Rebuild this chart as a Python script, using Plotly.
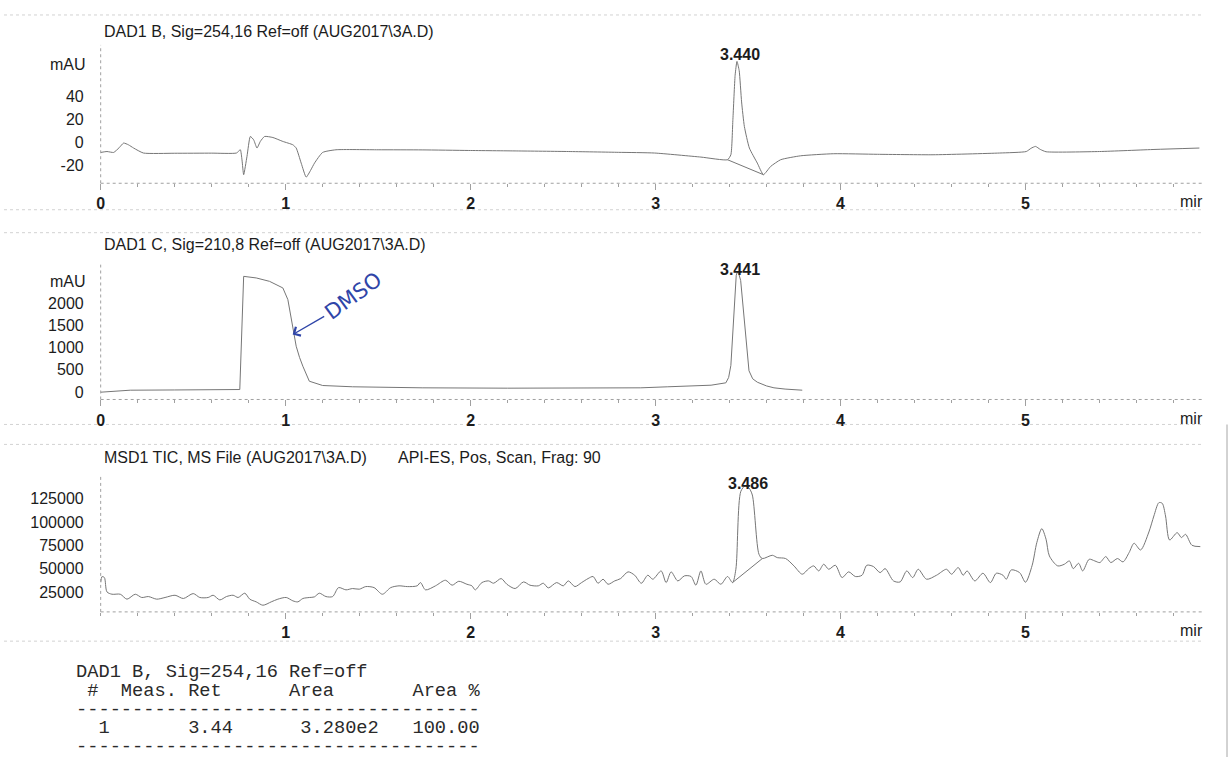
import plotly.graph_objects as go

W, H = 1230, 758

# ---------------- data ----------------
# DAD1 B, Sig=254,16 : retention time (min) / absorbance (mAU)
dad_b_time = [0.00, 0.034, 0.07, 0.10, 0.124, 0.15, 0.178, 0.231, 0.40, 0.60, 0.734, 0.755,
              0.764, 0.773, 0.791, 0.809, 0.827, 0.845, 0.863, 0.886, 0.931, 0.985, 1.039,
              1.057, 1.084, 1.111, 1.135, 1.156, 1.20, 1.272, 1.50, 1.738, 1.99, 2.25, 2.528,
              2.80, 2.994, 3.245, 3.389, 3.407, 3.418, 3.43, 3.440, 3.452, 3.465, 3.48, 3.507,
              3.55, 3.583, 3.622, 3.676, 3.784, 3.963, 4.20, 4.50, 4.86, 5.004, 5.03, 5.054,
              5.08, 5.111, 5.40, 5.70, 5.94]
dad_b_mau = [-8.6, -7.8, -8.6, -4.5, -0.5, -2.0, -4.8, -9.1, -9.3, -9.2, -9.1, -6.3,
             -15.0, -27.8, -12.0, 5.2, 2.3, -4.8, 0.9, 5.2, 4.3, 0.9, -2.0,
             -4.8, -17.8, -29.9, -24.0, -17.8, -8.6, -6.3, -6.3, -6.4, -6.9, -7.3, -7.8,
             -8.5, -9.1, -12.6, -14.9, -10.6, 20.0, 58.0, 70.0, 62.0, 35.0, 13.8, -4.8,
             -17.8, -27.8, -20.7, -14.9, -11.5, -9.7, -10.2, -10.6, -9.1, -7.8, -5.0, -3.4,
             -6.0, -8.0, -7.8, -6.0, -4.8]
dad_b_base_time = [3.389, 3.583]
dad_b_base_mau = [-14.9, -27.8]
dad_b_peak_rt = 3.440

# DAD1 C, Sig=210,8
dad_c_time = [0.00, 0.16, 0.40, 0.60, 0.752, 0.773, 0.806, 0.841, 0.913, 0.985, 1.012, 1.039,
              1.057, 1.075, 1.093, 1.128, 1.20, 1.362, 1.738, 2.20, 2.60, 2.92, 3.066, 3.30,
              3.38, 3.395, 3.407, 3.418, 3.428, 3.436, 3.441, 3.450, 3.46, 3.47, 3.482, 3.493,
              3.505, 3.525, 3.55, 3.60, 3.64, 3.70, 3.793]
dad_c_mau = [0, 45, 50, 55, 60, 2595, 2581, 2559, 2483, 2335, 2074, 1476,
             1029, 780, 582, 246, 150, 121, 98, 90, 92, 98, 121, 157,
             210, 330, 600, 1400, 2250, 2620, 2684, 2650, 2500, 2050, 1476, 900,
             480, 300, 224, 140, 98, 70, 45]
dad_c_peak_rt = 3.441

# MSD1 TIC, API-ES positive scan
tic_time = [0.000, 0.007, 0.020, 0.034, 0.061, 0.106, 0.142, 0.187, 0.222, 0.258, 0.303, 0.348,
            0.402, 0.447, 0.500, 0.536, 0.581, 0.608, 0.644, 0.680, 0.716, 0.743, 0.779, 0.806,
            0.841, 0.877, 0.922, 0.958, 1.003, 1.039, 1.066, 1.093, 1.128, 1.155, 1.182, 1.218,
            1.254, 1.286, 1.326, 1.362, 1.398, 1.433, 1.478, 1.523, 1.568, 1.613, 1.658, 1.711,
            1.729, 1.756, 1.810, 1.864, 1.900, 1.936, 1.980, 2.007, 2.025, 2.061, 2.097, 2.124,
            2.165, 2.196, 2.241, 2.286, 2.321, 2.366, 2.393, 2.420, 2.465, 2.501, 2.528, 2.564,
            2.600, 2.635, 2.662, 2.689, 2.716, 2.743, 2.779, 2.811, 2.851, 2.887, 2.923, 2.958,
            2.985, 3.030, 3.057, 3.084, 3.120, 3.156, 3.192, 3.218, 3.245, 3.272, 3.317, 3.353,
            3.389, 3.416, 3.434, 3.461, 3.486, 3.505, 3.523, 3.559, 3.577, 3.631, 3.658, 3.703,
            3.748, 3.793, 3.828, 3.855, 3.882, 3.909, 3.936, 3.972, 4.008, 4.044, 4.080, 4.116,
            4.142, 4.178, 4.214, 4.241, 4.286, 4.322, 4.358, 4.390, 4.420, 4.465, 4.519, 4.573,
            4.600, 4.636, 4.663, 4.684, 4.726, 4.770, 4.810, 4.842, 4.878, 4.896, 4.923, 4.968,
            5.000, 5.036, 5.061, 5.088, 5.111, 5.129, 5.174, 5.210, 5.237, 5.258, 5.287, 5.309,
            5.344, 5.375, 5.402, 5.434, 5.461, 5.497, 5.527, 5.560, 5.587, 5.622, 5.667, 5.694,
            5.721, 5.739, 5.757, 5.779, 5.820, 5.843, 5.865, 5.900, 5.945]
tic_counts = [35000, 41400, 40400, 25000, 22500, 22500, 17200, 22500, 19000, 20000, 17200, 19000,
              21400, 17900, 23200, 19000, 19000, 21400, 16400, 20000, 21400, 19000, 23600, 17200,
              14300, 10700, 14300, 17200, 19000, 15400, 14300, 17900, 19000, 19600, 23600, 20000,
              20000, 29600, 27200, 28600, 27900, 30700, 29600, 22500, 29600, 31500, 30700, 31500,
              35000, 27200, 31500, 37500, 32200, 36400, 33200, 31500, 27200, 35000, 36800, 34300,
              39300, 33200, 28600, 35700, 32200, 31500, 34300, 29300, 35000, 31500, 36800, 30700,
              35000, 39300, 41500, 34300, 38600, 33200, 36800, 39300, 46500, 42900, 34300, 42900,
              38600, 47500, 35000, 46500, 36800, 42200, 41500, 32200, 47500, 33200, 38600, 33200,
              41500, 35000, 49300, 133000, 139000, 136500, 129000, 65400, 60800, 64300, 61800, 60800,
              52900, 44000, 50000, 52900, 47500, 54700, 49300, 53600, 40400, 46500, 41500, 42900,
              53600, 52200, 45700, 50000, 36800, 35700, 47500, 40400, 49300, 38600, 42900, 49300,
              44000, 51100, 42900, 47500, 36800, 45000, 35000, 45000, 42900, 38600, 48600, 45700,
              35400, 53600, 77900, 92900, 81500, 63600, 52900, 54700, 58200, 50000, 55700, 47500,
              60000, 58200, 56500, 62900, 56500, 60800, 57200, 67200, 77200, 70000, 89300, 106500,
              120800, 120100, 106500, 80700, 88600, 83300, 86800, 75000, 73600]
tic_base_time = [3.416, 3.577]
tic_base_counts = [35000, 60800]
tic_peak_rt = 3.486

# axis ticks
x_ticks = [0, 1, 2, 3, 4, 5]
y_ticks_b = [-20, 0, 20, 40]
y_ticks_c = [0, 500, 1000, 1500, 2000]
y_ticks_tic = [25000, 50000, 75000, 100000, 125000]

# area report
report_signal = "DAD1 B, Sig=254,16 Ref=off"
report_header = ["#", "Meas. Ret", "Area", "Area %"]
report_row = ["1", "3.44", "3.280e2", "100.00"]

# ---------------- styling ----------------
TRACE = "#767676"
AXIS = "#a0a0a0"
RULE = "#d2d2d2"
TEXT = "#1c1c1c"
PEN = "#2f45a8"
SANS = "Liberation Sans, Arial, sans-serif"
MONO = "Liberation Mono, Courier New, monospace"


def px(v):
    return v / W


def py(v):
    return 1 - v / H


X_LEFT, X_RIGHT = 97, 1203
X_RANGE = [0, 5.96]

panels = [
    # (top px, bottom px, y range)
    (45, 183.5, [-35.2, 84.2]),
    (265, 400, [-163, 2857]),
    (477, 612.7, [3540, 149000]),
]

fig = go.Figure()


def line(x, y, n, shape="linear", smooth=None):
    ln = dict(color=TRACE, width=1, shape=shape)
    if smooth is not None:
        ln["smoothing"] = smooth
    fig.add_trace(go.Scatter(x=x, y=y, mode="lines", line=ln,
                             xaxis="x" if n == 1 else f"x{n}", yaxis="y" if n == 1 else f"y{n}",
                             hoverinfo="skip", showlegend=False))


line(dad_b_time, dad_b_mau, 1, "spline", 0.5)
line(dad_b_base_time, dad_b_base_mau, 1)
line(dad_c_time, dad_c_mau, 2)
line(tic_time, tic_counts, 3, "spline", 0.8)
line(tic_base_time, tic_base_counts, 3)

layout = dict(width=W, height=H, margin=dict(l=0, r=0, t=0, b=0),
              paper_bgcolor="white", plot_bgcolor="white", showlegend=False)

y_tick_sets = [y_ticks_b, y_ticks_c, y_ticks_tic]
shapes = []
for i, (top, bot, yr) in enumerate(panels, start=1):
    sx = "" if i == 1 else str(i)
    xt = x_ticks if i < 3 else x_ticks[1:]
    layout["xaxis" + sx] = dict(
        domain=[px(X_LEFT), px(X_RIGHT)], range=X_RANGE, anchor="y" + sx,
        showgrid=False, zeroline=False, showline=False,
        ticks="outside", ticklen=6, tickwidth=1, tickcolor=AXIS,
        tickvals=xt, ticktext=[f"<b>{v}</b>" for v in xt],
        tickfont=dict(family=SANS, size=16, color=TEXT), ticklabelstandoff=0,
        minor=dict(dtick=0.2, tick0=0, ticks="outside", ticklen=3, tickcolor=AXIS),
        fixedrange=True)
    yt = y_tick_sets[i - 1]
    layout["yaxis" + sx] = dict(
        domain=[py(bot), py(top)], range=yr, anchor="x" + sx,
        showgrid=False, zeroline=False, showline=False, ticks="",
        tickvals=yt, ticktext=[str(v) for v in yt],
        tickfont=dict(family=SANS, size=16, color=TEXT), ticklabelstandoff=16,
        fixedrange=True)
    # dotted axis lines
    shapes.append(dict(type="line", xref="paper", yref="paper", layer="below",
                       x0=px(X_LEFT), x1=px(X_RIGHT), y0=py(bot), y1=py(bot),
                       line=dict(color=AXIS, width=1, dash="dot")))
    shapes.append(dict(type="line", xref="paper", yref="paper", layer="below",
                       x0=px(X_LEFT), x1=px(X_LEFT), y0=py(bot), y1=py(top),
                       line=dict(color=AXIS, width=1, dash="dot")))

# faint rules framing each panel
for yy in [15, 210, 233, 425, 445, 642]:
    shapes.append(dict(type="line", xref="paper", yref="paper", layer="below",
                       x0=0, x1=px(1203), y0=py(yy), y1=py(yy),
                       line=dict(color=RULE, width=1, dash="dot")))
shapes.append(dict(type="line", xref="paper", yref="paper", layer="below",
                   x0=px(1227), x1=px(1227), y0=py(425), y1=0,
                   line=dict(color="#c4c4c4", width=1.5)))
layout["shapes"] = shapes

ann = []


def text(x, y, s, size=16, anchor="left", font=SANS, color=TEXT, **kw):
    ann.append(dict(x=px(x), y=py(y), xref="paper", yref="paper", text=s, showarrow=False,
                    xanchor=anchor, yanchor="middle",
                    font=dict(family=font, size=size, color=color), **kw))


text(98, 32, "DAD1 B, Sig=254,16 Ref=off (AUG2017\\3A.D)")
text(98, 245, "DAD1 C, Sig=210,8 Ref=off (AUG2017\\3A.D)")
text(98, 458, "MSD1 TIC, MS File (AUG2017\\3A.D)")
text(393, 458, "API-ES, Pos, Scan, Frag: 90")
text(84, 65, "mAU", anchor="right")
text(84, 282, "mAU", anchor="right")
for yy in [201.5, 419.5, 631.5]:
    text(1205, yy, "mir", anchor="right")

# retention-time labels on the main peaks
for n, rt, series_t, series_v, ys in [
        (1, dad_b_peak_rt, dad_b_time, dad_b_mau, 7),
        (2, dad_c_peak_rt, dad_c_time, dad_c_mau, 3),
        (3, tic_peak_rt, tic_time, tic_counts, 2)]:
    apex = series_v[series_t.index(rt)]
    sx = "" if n == 1 else str(n)
    ann.append(dict(x=rt, y=apex, xref="x" + sx, yref="y" + sx, text=f"<b>{rt:.3f}</b>",
                    showarrow=False, xanchor="center", yanchor="middle", yshift=ys, xshift=3,
                    font=dict(family=SANS, size=16, color=TEXT)))

# hand-written note on the solvent front
ann.append(dict(x=1.038, y=1291, xref="x2", yref="y2", text="", showarrow=True,
                ax=33, ay=-19, arrowhead=4, arrowsize=1.4, arrowwidth=1.4, arrowcolor=PEN))
ann.append(dict(x=1.366, y=2163, xref="x2", yref="y2", text="DMSO", showarrow=False,
                textangle=-36, font=dict(family="DejaVu Sans, sans-serif", size=21, color=PEN)))

# area percent report
NB = "\u00a0"


def mono_line(cols_text):
    return cols_text.replace(" ", NB)


hdr = (" " + report_header[0] + "  " + report_header[1] + " " * 6 + report_header[2]
       + " " * 7 + report_header[3])
row = ("  " + report_row[0] + " " * 7 + report_row[1] + " " * 6 + report_row[2]
       + " " * 3 + report_row[3])
rule = "-" * 36
for yy, s in [(673, report_signal), (692, hdr), (711, rule), (729, row), (748, rule)]:
    text(70, yy, mono_line(s), size=18.7, font=MONO, color="#2a2a2a")

layout["annotations"] = ann
fig.update_layout(**layout)
fig.write_html("out.html")
